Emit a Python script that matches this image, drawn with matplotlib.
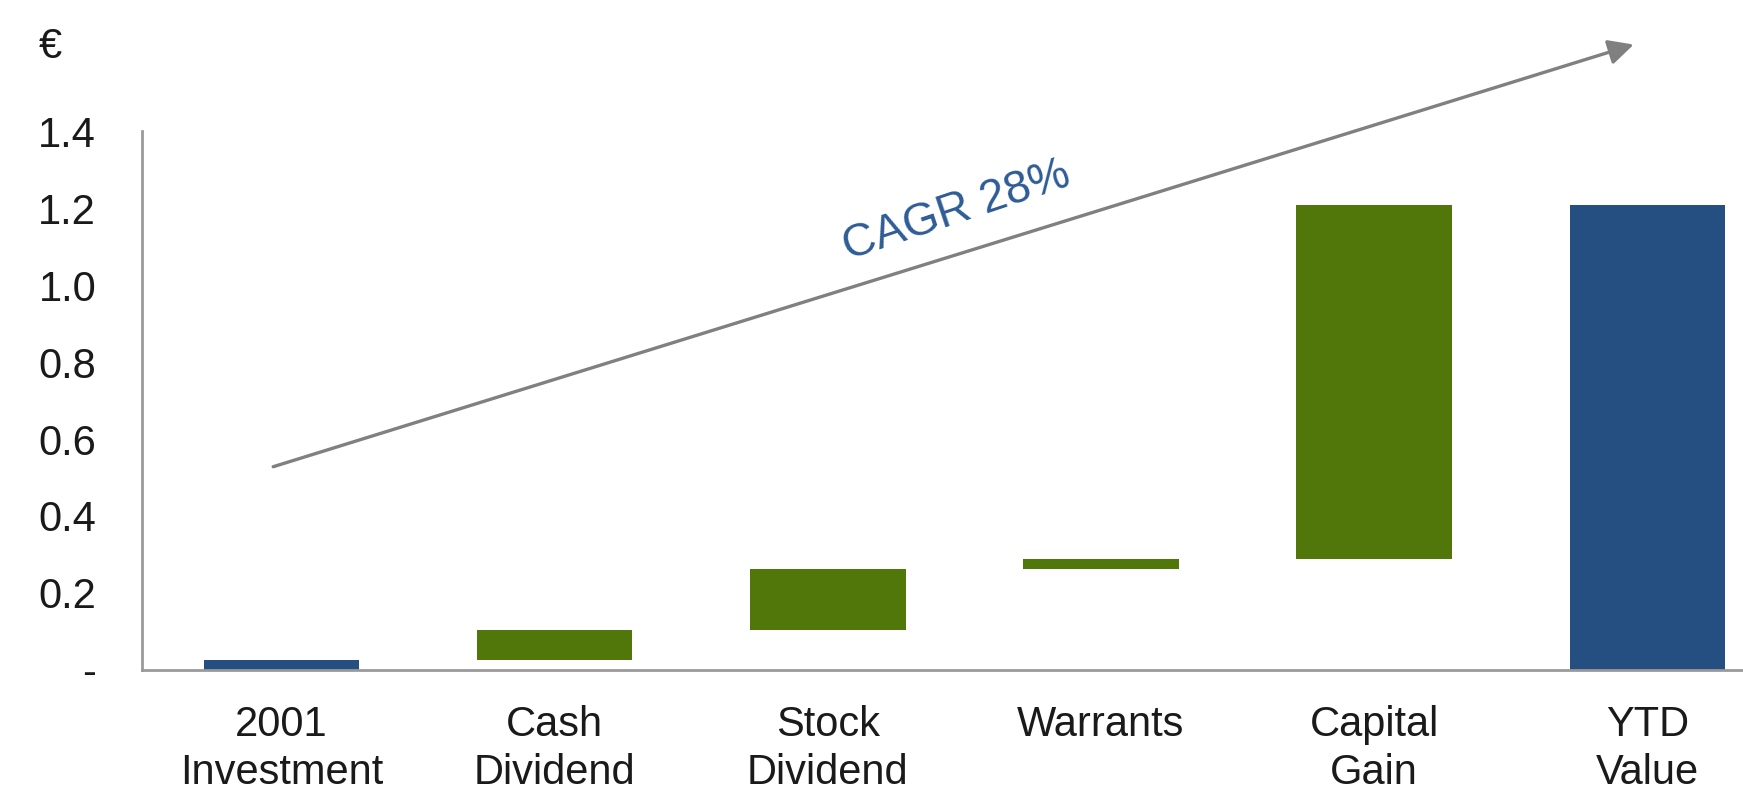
import matplotlib.pyplot as plt
import numpy as np

plt.rcParams['font.family'] = ['Liberation Sans', 'DejaVu Sans']

# waterfall data (EUR)
categories = ['2001\nInvestment', 'Cash\nDividend', 'Stock\nDividend', 'Warrants', 'Capital\nGain', 'YTD\nValue']
steps = [0.025, 0.079, 0.159, 0.026, 0.92]
y_ticks = [0, 0.2, 0.4, 0.6, 0.8, 1.0, 1.2, 1.4]
y_tick_labels = ['-', '0.2', '0.4', '0.6', '0.8', '1.0', '1.2', '1.4']
cagr_text = 'CAGR 28%'

blue = '#254F80'
green = '#51770A'

# build the floating bars
ends = np.cumsum(steps)
starts = ends - np.array(steps)
bottoms = list(starts) + [0]
heights = list(steps) + [ends[-1]]
colors = [blue] + [green] * (len(steps) - 1) + [blue]

fig = plt.figure(figsize=(17.43, 7.9), dpi=100)
ax = fig.add_axes([0.0815, 0.152, 0.9185, 0.682])

x = np.arange(len(categories))
ax.bar(x, heights, bottom=bottoms, width=0.57, color=colors)

ax.set_xlim(-0.51, 5.35)
ax.set_ylim(0, 1.4)
ax.set_yticks(y_ticks)
ax.set_yticklabels(y_tick_labels)
ax.set_xticks(x)
ax.set_xticklabels(categories, linespacing=1.28)
ax.tick_params(axis='both', length=0, labelsize=30, colors='#1a1a1a')
ax.tick_params(axis='y', pad=33)
ax.tick_params(axis='x', pad=25)

for side in ['top', 'right']:
    ax.spines[side].set_visible(False)
for side in ['left', 'bottom']:
    ax.spines[side].set_color('#9a9a9a')
    ax.spines[side].set_linewidth(2)

# growth arrow
ax.annotate('', xy=(4.95, 1.625), xytext=(-0.03, 0.528),
            arrowprops=dict(arrowstyle='-|>', color='#808080', lw=2.4,
                            mutation_scale=38, shrinkA=0, shrinkB=0),
            annotation_clip=False)
ax.text(2.47, 1.193, cagr_text, color='#2E5C96', fontsize=33,
        rotation=18.5, ha='center', va='center', rotation_mode='anchor')

fig.text(0.0287, 0.9405, '€', fontsize=30, ha='center', va='center', color='#1a1a1a')

plt.savefig('out.png', dpi=100)
